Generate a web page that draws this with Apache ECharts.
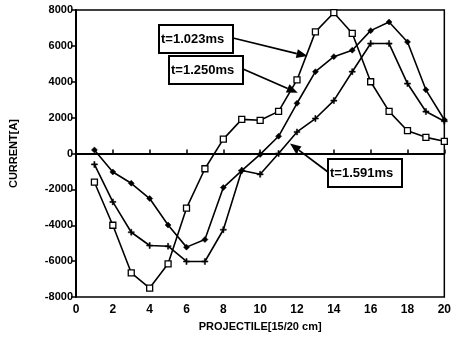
<!DOCTYPE html>
<html><head><meta charset="utf-8">
<script src="https://cdn.jsdelivr.net/npm/echarts@6/dist/echarts.min.js"></script>
<style>html,body{margin:0;padding:0;background:#fff}#c{width:454px;height:337px}</style>
</head><body><div id="c"></div>
<script>
// Projectile position index
const positions = [1,2,3,4,5,6,7,8,9,10,11,12,13,14,15,16,17,18,19,20];
// Current [A] at t=1.023 ms
const current1023 = [-1600,-4000,-6650,-7500,-6150,-3050,-850,800,1900,1850,2350,4100,6780,7850,6700,4000,2350,1270,900,680];
// Current [A] at t=1.250 ms
const current1250 = [200,-1030,-1660,-2510,-3990,-5220,-4800,-1900,-950,-50,960,2800,4560,5400,5760,6850,7330,6220,3550,1880];
// Current [A] at t=1.591 ms
const current1591 = [-610,-2700,-4390,-5130,-5170,-6020,-6020,-4250,-950,-1160,0,1200,1950,2950,4560,6130,6130,3900,2340,1800];

const annoLabels = ['t=1.023ms','t=1.250ms','t=1.591ms'];
// arrow tips in data coordinates [position, current]
const annoTips = [[12.57,5430],[12.04,3380],[11.62,554]];

const chart = echarts.init(document.getElementById('c'), null, {renderer:'canvas'});
const F = '"Liberation Sans", Arial, sans-serif';
const pair = a => positions.map((p,i)=>[p,a[i]]);

chart.setOption({
  animation:false,
  backgroundColor:'#fff',
  grid:{left:70,top:10,width:377,height:289,show:true,borderColor:'#000',borderWidth:1.5,backgroundColor:'transparent'},
  xAxis:{type:'value',min:0,max:20,interval:2,
    axisLine:{lineStyle:{color:'#000',width:2}},
    axisTick:{inside:true,length:4,lineStyle:{color:'#000',width:1.5}},
    axisLabel:{color:'#000',fontFamily:F,fontWeight:'bold',fontSize:12,margin:7,formatter:v=>String(v)},
    splitLine:{show:false},
    name:'PROJECTILE[15/20 cm]',nameLocation:'middle',nameGap:24,
    nameTextStyle:{color:'#000',fontFamily:F,fontWeight:'bold',fontSize:11}},
  yAxis:{type:'value',min:-8000,max:8000,interval:2000,
    axisLine:{lineStyle:{color:'#000',width:2}},
    axisTick:{inside:false,length:5,lineStyle:{color:'#000',width:1.5}},
    axisLabel:{color:'#000',fontFamily:F,fontWeight:'bold',fontSize:11,margin:3,formatter:v=>String(v)},
    splitLine:{show:false},
    name:'CURRENT[A]',nameLocation:'middle',nameGap:57,nameRotate:90,
    nameTextStyle:{color:'#000',fontFamily:F,fontWeight:'bold',fontSize:11}},
  series:[
    {type:'line',data:pair(current1023),symbol:'rect',symbolSize:6,
     lineStyle:{color:'#000',width:1.6},
     itemStyle:{color:'#fff',borderColor:'#000',borderWidth:1.3},
     markLine:{silent:true,symbol:'none',label:{show:false},
       lineStyle:{color:'#000',width:1.2,type:'solid'},data:[{yAxis:0}]}},
    {type:'line',data:pair(current1250),symbol:'diamond',symbolSize:6,
     lineStyle:{color:'#000',width:1.6},
     itemStyle:{color:'#000',borderColor:'#000',borderWidth:0.5}},
    {type:'line',data:pair(current1591),
     symbol:'path://M4,0 L6,0 L6,4 L10,4 L10,6 L6,6 L6,10 L4,10 L4,6 L0,6 L0,4 L4,4 Z',symbolSize:6,
     lineStyle:{color:'#000',width:1.6},
     itemStyle:{color:'#000',borderColor:'#000',borderWidth:0.5}}
  ]
});

// annotation boxes (pixel layout) with arrows pointing at data locations
const boxes = [{x:159,y:25,w:74,h:28,sx:233,sy:38},{x:169,y:56,w:74,h:28,sx:243,sy:69},{x:328,y:159,w:74,h:28,sx:328,sy:172}];
const els = [];
boxes.forEach((b,i)=>{
  const tip = chart.convertToPixel({gridIndex:0}, annoTips[i]);
  const dx = tip[0]-b.sx, dy = tip[1]-b.sy, L = Math.hypot(dx,dy);
  const ux = dx/L, uy = dy/L, hl = 11, hw = 4.5;
  const bx = tip[0]-ux*hl, by = tip[1]-uy*hl;
  els.push({type:'line',z:50,shape:{x1:b.sx,y1:b.sy,x2:bx,y2:by},style:{stroke:'#000',lineWidth:1.8}});
  els.push({type:'polygon',z:50,shape:{points:[[tip[0],tip[1]],[bx-uy*hw,by+ux*hw],[bx+uy*hw,by-ux*hw]]},style:{fill:'#000'}});
  els.push({type:'rect',z:60,shape:{x:b.x,y:b.y,width:b.w,height:b.h},style:{fill:'#fff',stroke:'#000',lineWidth:2}});
  els.push({type:'text',z:61,x:b.x+2,y:b.y+b.h/2,style:{text:annoLabels[i],fill:'#000',font:'bold 13px '+F,textVerticalAlign:'middle',verticalAlign:'middle'}});
});
chart.setOption({graphic:{elements:els}});
</script></body></html>
